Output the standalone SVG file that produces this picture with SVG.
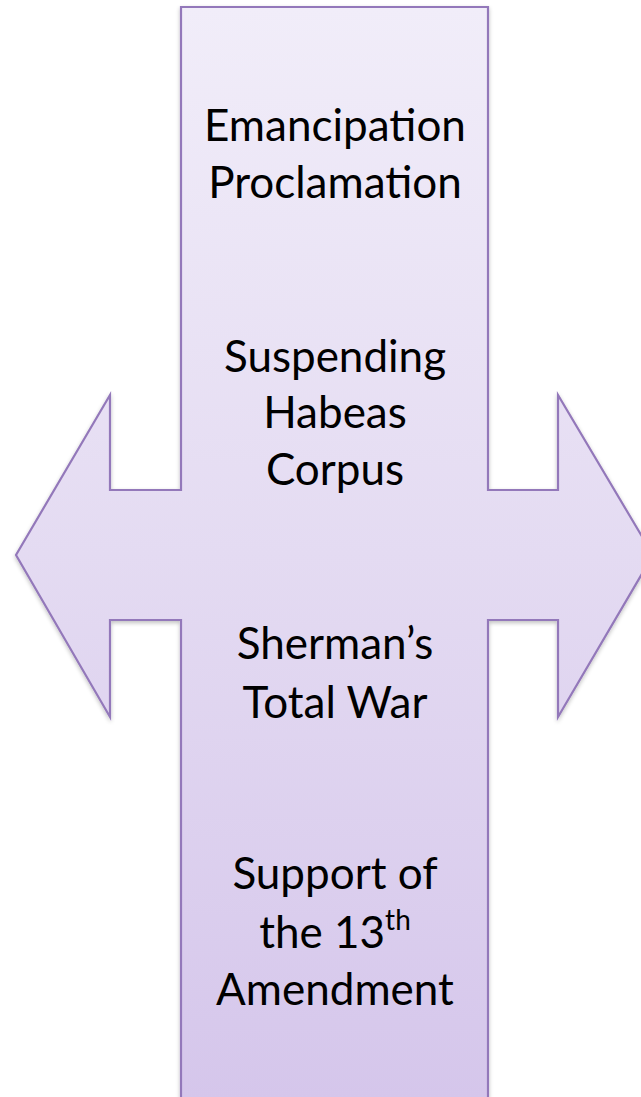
<svg xmlns="http://www.w3.org/2000/svg" width="641" height="1097" viewBox="0 0 641 1097">
  <defs>
    <linearGradient id="fillGrad" gradientUnits="userSpaceOnUse" x1="0" y1="7" x2="0" y2="1100">
      <stop offset="0" stop-color="#F1EDF9"/>
      <stop offset="0.5" stop-color="#E4DBF2"/>
      <stop offset="1" stop-color="#D5C6EB"/>
    </linearGradient>
    <filter id="shadow" x="-10%" y="-10%" width="120%" height="120%">
      <feGaussianBlur in="SourceAlpha" stdDeviation="2"/>
      <feOffset dx="0" dy="2" result="b"/>
      <feComponentTransfer><feFuncA type="linear" slope="0.25"/></feComponentTransfer>
      <feMerge><feMergeNode/><feMergeNode in="SourceGraphic"/></feMerge>
    </filter>
  </defs>
  <style>
    .shape { fill: url(#fillGrad); stroke: #9378BA; stroke-width: 2.2; }
    .lbl { font-family: Lato, "Open Sans", sans-serif; font-size: 44px; fill: #000; text-anchor: middle; }
    .sup { font-size: 28px; }
  </style>
  <rect width="641" height="1097" fill="#FFFFFF"/>
  <g id="cross-arrow">
    <path class="shape" filter="url(#shadow)" d="M181,7 L488,7 L488,490 L558,490 L558,395 L653,555 L558,717 L558,620 L488,620 L488,1104 L181,1104 L181,620 L110,620 L110,717 L16,555 L110,395 L110,490 L181,490 Z"/>
  </g>
  <g id="connectors"></g>
  <g id="node-emancipation">
    <text class="lbl" x="335" y="141">Emancipation</text>
    <text class="lbl" x="335" y="198">Proclamation</text>
  </g>
  <g id="node-habeas">
    <text class="lbl" x="335" y="372">Suspending</text>
    <text class="lbl" x="335" y="428">Habeas</text>
    <text class="lbl" x="335" y="485">Corpus</text>
  </g>
  <g id="node-sherman">
    <text class="lbl" x="335" y="659">Sherman’s</text>
    <text class="lbl" x="335" y="718">Total War</text>
  </g>
  <g id="node-amendment">
    <text class="lbl" x="335" y="889">Support of</text>
    <text class="lbl" x="335" y="948">the 13<tspan class="sup" dy="-18">th</tspan></text>
    <text class="lbl" x="335" y="1005">Amendment</text>
  </g>
</svg>
